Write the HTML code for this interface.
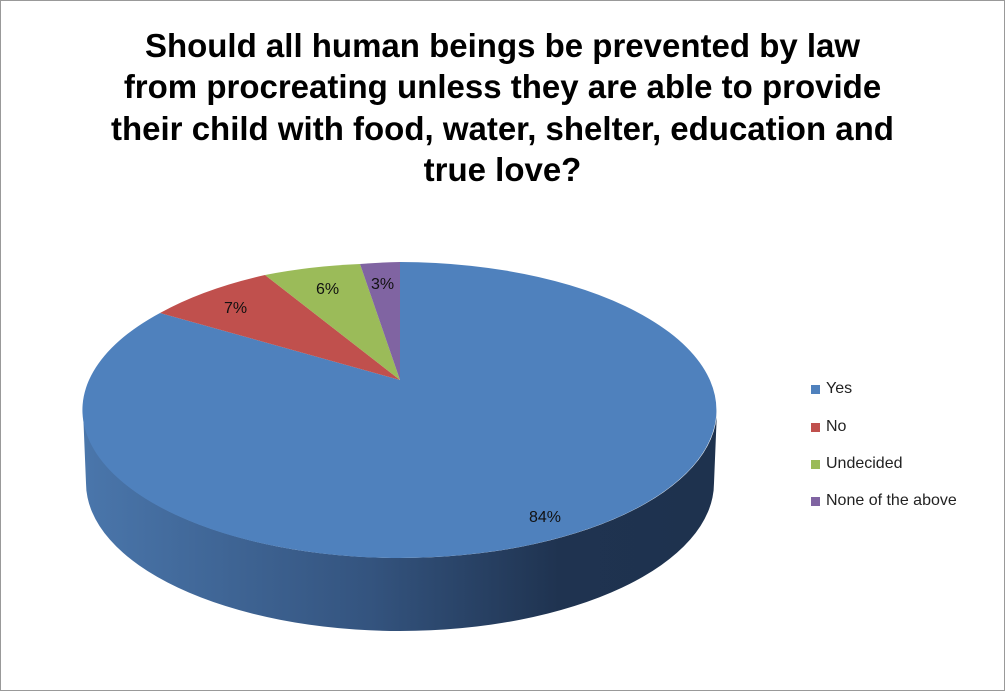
<!DOCTYPE html>
<html><head><style>
body{margin:0;background:#fff;}
.c{position:absolute;left:0;top:0;width:1003px;height:689px;border:1px solid #999;}
.t{position:absolute;left:0;width:1005px;text-align:center;font:bold 33px "Liberation Sans",sans-serif;color:#000;letter-spacing:0px;white-space:nowrap}
.l{position:absolute;left:826px;font:16px "Liberation Sans",sans-serif;color:#222}
.s{position:absolute;left:811px;width:9px;height:9px}
</style></head><body>
<div class="c"></div>
<div class="t" style="top:27px">Should all human beings be prevented by law</div>
<div class="t" style="top:68px">from procreating unless they are able to provide</div>
<div class="t" style="top:110px">their child with food, water, shelter, education and</div>
<div class="t" style="top:151px">true love?</div>
<svg width="1005" height="691" style="position:absolute;left:0;top:0">
<defs><linearGradient id="g" x1="0" x2="1" y1="0" y2="0">
<stop offset="0" stop-color="#4a76ab"/><stop offset="0.45" stop-color="#34547f"/><stop offset="0.75" stop-color="#1f3350"/><stop offset="1" stop-color="#1e324e"/></linearGradient></defs>
<path d="M83,410 A317,148 0 0 0 717,410 L714,483 A314,148 0 0 1 86,483 Z" fill="url(#g)"/>
<path d="M400,380 L400,262 A317,148 0 1 1 160,313 Z" fill="#4f81bd"/>
<path d="M400,380 L160,313 A317,148 0 0 1 265,275 Z" fill="#c0504d"/>
<path d="M400,380 L265,275 A317,148 0 0 1 360,264 Z" fill="#9bbb59"/>
<path d="M400,380 L360,264 A317,148 0 0 1 400,262 Z" fill="#8064a2"/>
<g font-family="Liberation Sans,sans-serif" font-size="16" fill="#111">
<text x="224" y="313">7%</text><text x="316" y="294">6%</text><text x="371" y="289">3%</text><text x="529" y="522">84%</text></g>
</svg>
<div class="s" style="top:385px;background:#4f81bd"></div><div class="l" style="top:380px">Yes</div>
<div class="s" style="top:423px;background:#c0504d"></div><div class="l" style="top:418px">No</div>
<div class="s" style="top:460px;background:#9bbb59"></div><div class="l" style="top:455px">Undecided</div>
<div class="s" style="top:497px;background:#8064a2"></div><div class="l" style="top:492px">None of the above</div>
</body></html>
